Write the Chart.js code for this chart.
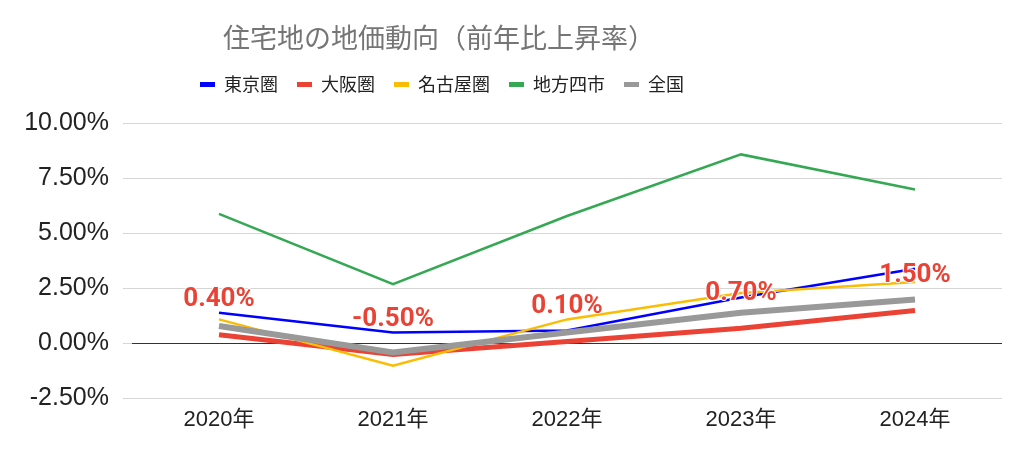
<!DOCTYPE html>
<html>
<head>
<meta charset="utf-8">
<script src="https://cdn.jsdelivr.net/npm/chart.js@4"></script>
<style>
  html, body { margin: 0; padding: 0; background: #fff; }
  #wrap { width: 1024px; height: 456px; }
</style>
</head>
<body>
<div id="wrap"><canvas id="landChart" width="1024" height="456"></canvas></div>
<script>
const years = ['2020年', '2021年', '2022年', '2023年', '2024年'];
const tokyo = [1.4, 0.5, 0.6, 2.1, 3.4];
const osaka = [0.4, -0.5, 0.1, 0.7, 1.5];
const nagoya = [1.1, -1.0, 1.1, 2.3, 2.8];
const chiho = [5.9, 2.7, 5.8, 8.6, 7.0];
const zenkoku = [0.8, -0.4, 0.5, 1.4, 2.0];
const yMin = -2.5, yMax = 10, yStep = 2.5;

const CJK = '"Noto Sans CJK JP", "Noto Sans", sans-serif';
const LAT = '"Liberation Sans", Arial, "Noto Sans CJK JP", sans-serif';

// red value labels above the 大阪圏 line
const valueLabels = {
    id: 'valueLabels',
    afterDatasetsDraw: (chart) => {
        const { ctx } = chart;
        const meta = chart.getDatasetMeta(1);
        ctx.save();
        ctx.font = 'bold 26px Roboto, "Liberation Sans", sans-serif';
        ctx.textAlign = 'center';
        ctx.textBaseline = 'middle';
        ctx.lineJoin = 'round';
        meta.data.forEach((pt, i) => {
            const txt = osaka[i].toFixed(2) + '%';
            ctx.strokeStyle = '#ffffff';
            ctx.lineWidth = 2;
            ctx.strokeText(txt, pt.x, pt.y - 35);
            ctx.fillStyle = '#ea4335';
            ctx.fillText(txt, pt.x, pt.y - 35);
        });
        ctx.restore();
    }
};

// title and legend sit left of centre in the original
const shiftHeader = {
    id: 'shiftHeader',
    afterLayout: (chart) => {
        if (chart.titleBlock) chart.titleBlock.right = 878;
        if (chart.legend) chart.legend.right = 884;
    }
};

function line(label, data, color, width, order) {
    return {
        label: label,
        data: data,
        borderColor: color,
        backgroundColor: color,
        borderWidth: width,
        pointRadius: 0,
        pointHoverRadius: 0,
        tension: 0,
        order: order
    };
}

new Chart(document.getElementById('landChart').getContext('2d'), {
    type: 'line',
    plugins: [valueLabels, shiftHeader],
    data: {
        labels: years,
        datasets: [
            line('東京圏', tokyo, '#0000ff', 2.5, 5),
            line('大阪圏', osaka, '#ea4335', 5, 4),
            line('名古屋圏', nagoya, '#fbbc04', 2.5, 3),
            line('地方四市', chiho, '#34a853', 2.5, 2),
            line('全国', zenkoku, '#999999', 6, 1)
        ]
    },
    options: {
        responsive: false,
        animation: false,
        layout: { padding: { top: 0, left: 0, right: 22, bottom: 15 } },
        plugins: {
            title: {
                display: true,
                text: '住宅地の地価動向（前年比上昇率）',
                color: '#757575',
                font: { family: CJK, size: 27, weight: 'normal' },
                padding: { top: 22, bottom: 2 }
            },
            subtitle: {
                display: true,
                text: '',
                weight: 500,
                font: { size: 1 },
                padding: { top: 19, bottom: 0 }
            },
            legend: {
                display: true,
                labels: {
                    color: '#222',
                    font: { family: CJK, size: 18 },
                    boxWidth: 15,
                    boxHeight: 5,
                    padding: 19,
                    generateLabels: (chart) => Chart.defaults.plugins.legend.labels.generateLabels(chart).map(l => {
                        const ds = chart.data.datasets[l.datasetIndex];
                        l.fillStyle = ds.borderColor;
                        l.strokeStyle = ds.borderColor;
                        l.lineWidth = 0;
                        return l;
                    }),
                    sort: (a, b) => a.datasetIndex - b.datasetIndex
                }
            },
            tooltip: { enabled: false }
        },
        scales: {
            x: {
                offset: true,
                grid: { display: false, drawTicks: false },
                border: { display: false },
                ticks: {
                    color: '#222',
                    font: { family: LAT, size: 22 },
                    padding: 8,
                    maxRotation: 0
                }
            },
            y: {
                min: yMin,
                max: yMax,
                afterFit: (s) => { s.width = 132; },
                grid: {
                    color: (c) => c.tick && c.tick.value === 0 ? '#333333' : '#d6d6d6',
                    tickColor: '#d6d6d6',
                    tickLength: 9,
                    lineWidth: 1
                },
                border: { display: false },
                ticks: {
                    stepSize: yStep,
                    color: '#222',
                    font: { family: LAT, size: 25 },
                    padding: 14,
                    callback: (v) => v.toFixed(2) + '%'
                }
            }
        }
    }
});
</script>
</body>
</html>
